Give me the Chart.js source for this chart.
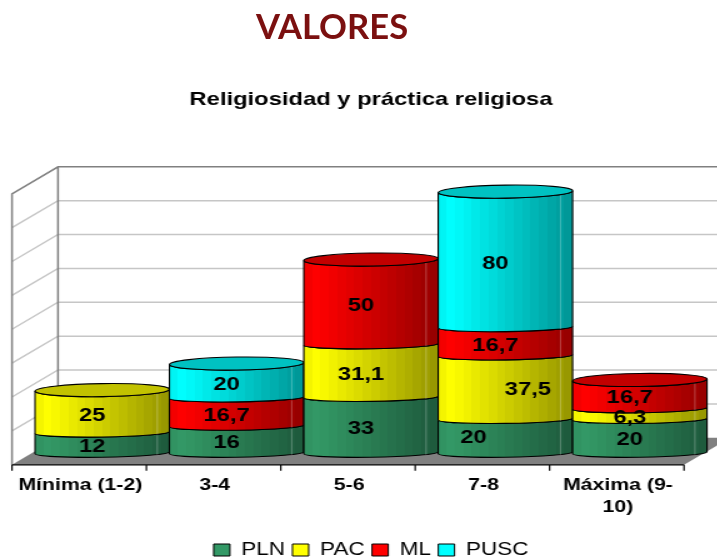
<!DOCTYPE html>
<html>
<head>
<meta charset="utf-8">
<style>
  html, body { margin: 0; padding: 0; background: #fff; overflow: hidden; width: 717px; height: 558px; }
  #heading { position: absolute; left: 256px; top: 5px; font: bold 34.6px Lato, sans-serif; color: #7b1010; white-space: nowrap; }
  #wrap { position: absolute; left: 0; top: 0; width: 574px; height: 558px; transform: scaleX(1.25); transform-origin: 0 0; }
</style>
<script src="https://cdn.jsdelivr.net/npm/chart.js@4"></script>
</head>
<body>
<div id="wrap"><canvas id="chart" width="574" height="558"></canvas></div>
<div id="heading">VALORES</div>
<script>
const categories = ['Mínima (1-2)', '3-4', '5-6', '7-8', ['Máxima (9-', '10)']];
const pln = [12, 16, 33, 20, 20];
const pac = [25, null, 31.1, 37.5, 6.3];
const ml = [null, 16.7, 50, 16.7, 16.7];
const pusc = [null, 20, null, 80, null];

const FRONT_DX = -18.4, FRONT_DY = 12, BACK_DX = 18.4, BACK_DY = -15;
const CAP_RY = 6.5, RING_RY = 4.5, TILT = -0.018;

// moved by hand in the original: dataset:category -> [dx, dy]
const labelNudge = { '0:3': [-25.6, 2], '1:3': [18, 3] };

function shade(hex, k) {
  const n = parseInt(hex.slice(1), 16);
  return 'rgb(' + [n >> 16, (n >> 8) & 255, n & 255].map(c => Math.round(c * k)).join(',') + ')';
}

function bandFill(ctx, hex, l, r) {
  const g = ctx.createLinearGradient(l, 0, r, 0);
  const bands = 16;
  for (let i = 0; i < bands; i++) {
    const t = (i + 0.5) / bands;
    const k = t < 0.1 ? 0.94 + 0.6 * t : 1 - 0.42 * (t - 0.1) / 0.9;
    g.addColorStop(i / bands, shade(hex, k));
    g.addColorStop((i + 1) / bands, shade(hex, k));
  }
  return g;
}

function drawWalls(chart) {
  const ctx = chart.ctx, x = chart.scales.x, y = chart.scales.y, a = chart.chartArea;
  const fl = a.left + FRONT_DX, fr = a.right + FRONT_DX, bl = a.left + BACK_DX;
  const by = a.bottom + BACK_DY, fy = a.bottom + FRONT_DY;
  const slantX = BACK_DX - FRONT_DX, slantY = FRONT_DY - BACK_DY;

  ctx.save();
  // gridlines on back and side wall
  ctx.strokeStyle = '#c6c6c6';
  ctx.lineWidth = 1.4;
  y.ticks.forEach(t => {
    if (t.value === 0 || t.value === y.max) return;
    const py = y.getPixelForValue(t.value) + BACK_DY;
    ctx.beginPath();
    ctx.moveTo(fl, py + slantY);
    ctx.lineTo(bl, py);
    ctx.lineTo(a.right + 40, py);
    ctx.stroke();
  });
  // floor
  ctx.fillStyle = '#808080';
  ctx.beginPath();
  ctx.moveTo(fl, fy);
  ctx.lineTo(fr, fy);
  ctx.lineTo(fr + slantX, by);
  ctx.lineTo(bl, by);
  ctx.closePath();
  ctx.fill();
  // wall outline
  ctx.strokeStyle = '#808080';
  ctx.lineWidth = 1.5;
  const topY = a.top + BACK_DY;
  ctx.beginPath();
  ctx.moveTo(fl, fy);
  ctx.lineTo(fl, topY + slantY);
  ctx.lineTo(bl, topY);
  ctx.lineTo(a.right + 40, topY);
  ctx.moveTo(bl, topY);
  ctx.lineTo(bl, by);
  ctx.stroke();
  // front axis and ticks
  ctx.strokeStyle = '#000';
  ctx.lineWidth = 1.2;
  ctx.beginPath();
  ctx.moveTo(fl, fy);
  ctx.lineTo(fr, fy);
  const step = x.width / categories.length;
  for (let i = 0; i <= categories.length; i++) {
    ctx.moveTo(fl + step * i, fy);
    ctx.lineTo(fl + step * i, fy + 6);
  }
  ctx.stroke();
  ctx.restore();
}

function drawCylinder(ctx, el, hex, isTop) {
  const l = el.x - el.width / 2, r = el.x + el.width / 2, cx = el.x, rx = el.width / 2;
  const top = el.y, base = el.base;
  ctx.beginPath();
  ctx.ellipse(cx, top, rx, isTop ? CAP_RY : RING_RY, TILT, 0, Math.PI);
  ctx.ellipse(cx, base, rx, RING_RY, TILT, Math.PI, 0, true);
  ctx.closePath();
  ctx.fillStyle = bandFill(ctx, hex, l, r);
  ctx.fill();
  ctx.strokeStyle = '#000';
  ctx.lineWidth = 1.1;
  ctx.stroke();
  // thin highlight on the right
  ctx.strokeStyle = 'rgba(255,255,255,0.35)';
  ctx.lineWidth = 0.8;
  ctx.beginPath();
  ctx.moveTo(l + el.width * 0.91, top + 3);
  ctx.lineTo(l + el.width * 0.91, base + 2);
  ctx.stroke();
  if (isTop) {
    ctx.beginPath();
    ctx.ellipse(cx, top, rx, CAP_RY, TILT, 0, Math.PI * 2);
    ctx.fillStyle = shade(hex, 0.76);
    ctx.fill();
    ctx.strokeStyle = '#000';
    ctx.lineWidth = 1.1;
    ctx.stroke();
  }
}

const cylinders = {
  id: 'cylinders',
  afterLayout(chart) {
    chart.legend.top += 17;
    chart.legend.bottom += 17;
  },
  beforeDatasetsDraw(chart) {
    const ctx = chart.ctx, sets = chart.data.datasets;
    drawWalls(chart);
    categories.forEach((c, j) => {
      let last = -1;
      sets.forEach((s, i) => { if (s.data[j] != null) last = i; });
      sets.forEach((s, i) => {
        if (s.data[j] == null) return;
        drawCylinder(ctx, chart.getDatasetMeta(i).data[j], s.backgroundColor, i === last);
      });
    });
    ctx.save();
    ctx.font = 'bold 19px "Liberation Sans", Arial, sans-serif';
    ctx.fillStyle = '#000';
    ctx.textAlign = 'center';
    ctx.textBaseline = 'middle';
    sets.forEach((s, i) => {
      s.data.forEach((v, j) => {
        if (v == null) return;
        const el = chart.getDatasetMeta(i).data[j];
        const nudge = labelNudge[i + ':' + j] || [-8, 4];
        ctx.fillText(String(v).replace('.', ','), el.x + nudge[0], (el.y + el.base) / 2 + nudge[1]);
      });
    });
    ctx.restore();
    return false;
  }
};

function series(label, data, color) {
  return { label: label, data: data, backgroundColor: color, borderColor: '#000', borderWidth: 1 };
}

new Chart(document.getElementById('chart'), {
  type: 'bar',
  data: {
    labels: categories,
    datasets: [
      series('PLN', pln, '#339966'),
      series('PAC', pac, '#ffff00'),
      series('ML', ml, '#ff0000'),
      series('PUSC', pusc, '#00ffff')
    ]
  },
  plugins: [cylinders],
  options: {
    responsive: false,
    animation: false,
    barPercentage: 1,
    categoryPercentage: 1,
    layout: { autoPadding: false, padding: { left: 28, right: 8.4, top: 0, bottom: 6 } },
    scales: {
      x: {
        stacked: true,
        grid: { display: false, drawTicks: true, tickLength: 21 },
        border: { display: false },
        ticks: {
          autoSkip: false,
          maxRotation: 0,
          padding: 0,
          labelOffset: -17.5,
          color: '#000',
          font: { family: '"Liberation Sans", Arial, sans-serif', size: 17, weight: 'bold', lineHeight: 1.3 }
        }
      },
      y: {
        display: false,
        stacked: true,
        min: 0,
        max: 160,
        ticks: { stepSize: 20 }
      }
    },
    plugins: {
      tooltip: { enabled: false },
      title: {
        display: true,
        text: 'Religiosidad y práctica religiosa',
        color: '#000',
        font: { family: '"Liberation Sans", Arial, sans-serif', size: 19, weight: 'bold', lineHeight: 1.2 },
        padding: { top: 88, bottom: 71 }
      },
      legend: {
        position: 'bottom',
        labels: {
          boxWidth: 13,
          boxHeight: 12,
          padding: 6,
          color: '#000',
          font: { family: '"Liberation Sans", Arial, sans-serif', size: 18 }
        }
      }
    }
  }
});
</script>
</body>
</html>
